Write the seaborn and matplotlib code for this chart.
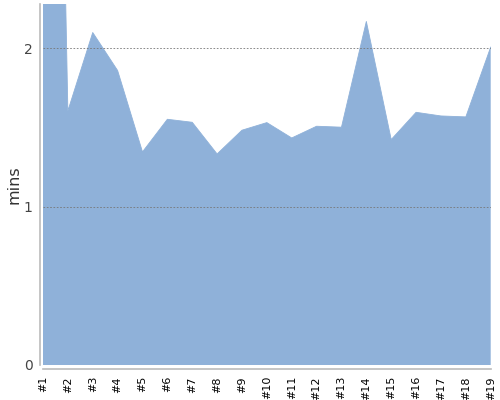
import numpy as np
import pandas as pd
import matplotlib
matplotlib.use("Agg")
import matplotlib.pyplot as plt
import seaborn as sns

# run labels and durations (mins)
runs = [f"#{i}" for i in range(1, 20)]
run_pos = list(range(1, 20))
mins = [9.5, 1.605, 2.10, 1.86, 1.346, 1.552, 1.533, 1.333, 1.483, 1.531,
        1.434, 1.508, 1.502, 2.17, 1.424, 1.596, 1.573, 1.567, 2.008]
y_ticks = [0, 1, 2]
fill_color = "#8fb1d9"

sns.set_style("white")
plt.rcParams['font.family'] = ['DejaVu Sans']

df = pd.DataFrame({"run": run_pos, "mins": mins})

fig = plt.figure(figsize=(5, 4), dpi=100)
ax = fig.add_axes([43 / 500, 35 / 400, 447.7 / 500, 361 / 400])

sns.lineplot(data=df, x="run", y="mins", color=fill_color, linewidth=0.6, ax=ax)
ax.fill_between(df["run"], 0, df["mins"], color=fill_color, linewidth=0)

for v in y_ticks[1:]:
    ax.axhline(v, color="#777777", linestyle=(0, (2, 2)), linewidth=0.6, zorder=3)

ax.set_xlim(1, 19)
ax.set_ylim(0, 2.28)
ax.set_xticks(run_pos, labels=runs)
ax.set_yticks(y_ticks, labels=[str(t) for t in y_ticks])
ax.set_xlabel("")
ax.set_ylabel("mins", fontsize=11.5, color="#333333")
ax.yaxis.set_label_coords(-0.048, 0.5)

sns.despine(ax=ax, offset={"left": 2.5, "bottom": 3})
for side in ["left", "bottom"]:
    ax.spines[side].set_color("#bbbbbb")
    ax.spines[side].set_linewidth(1.2)
ax.tick_params(axis="both", length=3, width=1, color="#bbbbbb", pad=2)
ax.tick_params(axis="x", labelrotation=90, labelsize=8, labelcolor="black")
ax.tick_params(axis="y", labelsize=10, labelcolor="#444444")

fig.savefig("out.png", dpi=100)
